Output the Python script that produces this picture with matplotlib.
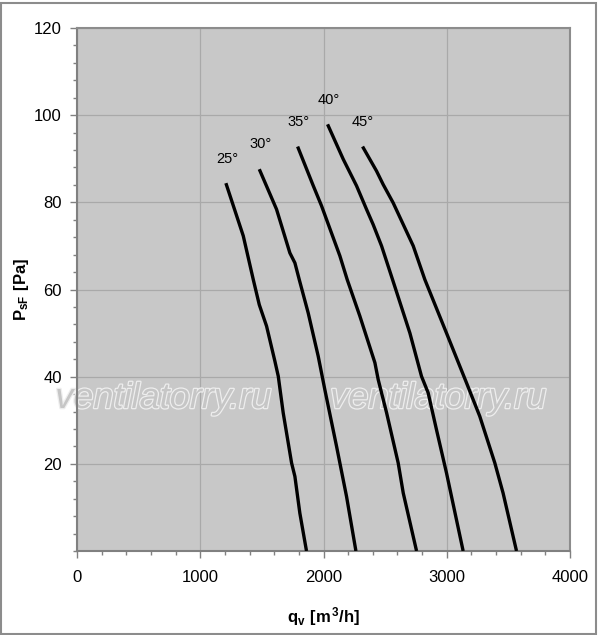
import matplotlib
matplotlib.use('Agg')
import matplotlib.pyplot as plt
import matplotlib.patheffects as pe
from matplotlib.ticker import MultipleLocator

plt.rcParams['font.family'] = ['Liberation Sans', 'DejaVu Sans']
plt.rcParams['mathtext.fontset'] = 'custom'
plt.rcParams['mathtext.rm'] = 'Liberation Sans'
plt.rcParams['mathtext.bf'] = 'Liberation Sans:bold'

# blade angle curves: flow q_v [m3/h], pressure P_sF [Pa]
angles = ['25°', '30°', '35°', '40°', '45°']

q_25 = [1208, 1349, 1430, 1479, 1538, 1606, 1633, 1673, 1741, 1768, 1808, 1862]
p_25 = [84.4, 72.3, 62.3, 56.5, 51.6, 43.5, 40.1, 31.7, 20.2, 17.1, 8.7, 0]

q_30 = [1479, 1619, 1727, 1768, 1803, 1876, 1957, 2011, 2106, 2187, 2263]
p_30 = [87.6, 78.4, 68.4, 66.1, 62.3, 54.6, 44.7, 37.0, 24.0, 12.5, 0]

q_35 = [1790, 1917, 1984, 2133, 2192, 2295, 2417, 2444, 2512, 2606, 2647, 2755]
p_35 = [92.8, 83.8, 79.2, 67.7, 62.3, 53.9, 43.2, 39.3, 31.7, 20.2, 13.3, 0]

q_40 = [2033, 2160, 2268, 2349, 2403, 2471, 2560, 2701, 2795, 2849, 2917, 2998, 3133]
p_40 = [97.9, 89.9, 83.8, 78.4, 74.9, 70.0, 62.3, 50.0, 40.1, 36.3, 27.8, 17.9, 0]

q_45 = [2317, 2430, 2484, 2565, 2728, 2822, 2998, 3160, 3268, 3390, 3457, 3566]
p_45 = [92.8, 87.2, 84.1, 79.9, 70.0, 62.3, 50.0, 38.6, 30.9, 20.2, 13.3, 0]

# label anchor points (centre of text)
label_q = [1219, 1490, 1800, 2039, 2322]
label_p = [89.9, 93.3, 98.5, 103.5, 98.5]

curves = [(q_25, p_25), (q_30, p_30), (q_35, p_35), (q_40, p_40), (q_45, p_45)]

fig = plt.figure(figsize=(6, 6.35), dpi=100)
ax = fig.add_axes([77 / 600, 1 - 551 / 635, (570 - 77) / 600, (551 - 28) / 635])
ax.set_facecolor('#c8c8c8')

for q, p in curves:
    ax.plot(q, p, color='black', lw=2.4, solid_capstyle='butt', zorder=3)

for name, lq, lp in zip(angles, label_q, label_p):
    ax.text(lq, lp, name, fontsize=10.5, ha='center', va='center', zorder=4)

ax.set_xlim(0, 4000)
ax.set_ylim(0, 120)
ax.xaxis.set_major_locator(MultipleLocator(1000))
ax.xaxis.set_minor_locator(MultipleLocator(200))
ax.yaxis.set_major_locator(MultipleLocator(20))
ax.yaxis.set_minor_locator(MultipleLocator(4))
ax.set_yticks([20, 40, 60, 80, 100, 120])
ax.grid(True, which='major', color='#a9a9a9', lw=0.9, zorder=1)
ax.set_axisbelow(True)

ax.tick_params(which='major', direction='out', length=5, width=1, color='#808080',
               labelsize=12)
ax.tick_params(axis='x', which='major', pad=9)
ax.tick_params(axis='y', which='major', pad=6)
ax.tick_params(which='minor', direction='out', length=3, width=1, color='#808080')
ax.tick_params(top=False, right=False)

for s in ['left', 'bottom']:
    ax.spines[s].set_color('#808080')
    ax.spines[s].set_linewidth(1.5)
for s in ['top', 'right']:
    ax.spines[s].set_color('#8c8c8c')
    ax.spines[s].set_linewidth(1.5)

ax.set_xlabel(r'$\mathbf{q_v\ [m^{\,3}/h]}$', fontsize=12, labelpad=14)
ax.set_ylabel(r'$\mathbf{P_{sF}\ [Pa]}$', fontsize=12, labelpad=2)

# watermark
for wx in [701, 2932]:
    ax.text(wx, 32.8, 'ventilatorry.ru', fontsize=26, style='italic', ha='center',
            va='baseline', color='#c6c6c6', zorder=2,
            path_effects=[pe.withStroke(linewidth=1.8, foreground='#eeeeee')])

# outer frame
fig.patches.append(plt.Rectangle((0.002, 0.002), 0.992, 0.994, transform=fig.transFigure,
                                 fill=False, edgecolor='#8c8c8c', lw=1.5))

fig.savefig('out.png', dpi=100)
